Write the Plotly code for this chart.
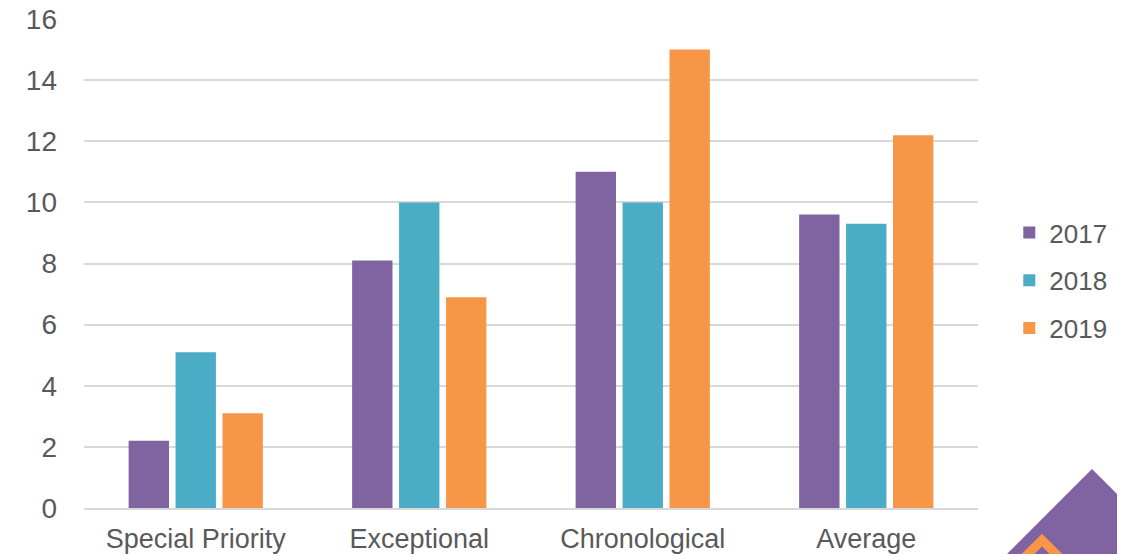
import plotly.graph_objects as go

categories = ["Special Priority", "Exceptional", "Chronological", "Average"]
years = ["2017", "2018", "2019"]
v2017 = [2.2, 8.1, 11.0, 9.6]
v2018 = [5.1, 10.0, 10.0, 9.3]
v2019 = [3.1, 6.9, 15.0, 12.2]
colors = ["#8064A2", "#4BACC6", "#F79646"]

OFF = 8  # default page body margin
W, H = 1125 - OFF, 554 - OFF
PL, PR, PT, PB = 84, 978, 19, 508  # plot area in screenshot pixels
L = PL - OFF
T = PT - OFF
R = W - (PR - PL) - L
B = H - (PB - PT) - T

fig = go.Figure()
for name, vals, c in zip(years, [v2017, v2018, v2019], colors):
    fig.add_trace(go.Bar(x=categories, y=vals, name=name, marker_color=c,
                         marker_line_width=0, legendgroup=name))

def px(x):
    return (x - PL) / (PR - PL)

def py(y):
    return (PB - y) / (PB - PT)

diamond = "M {},{} L {},{} L {},{} L {},{} Z".format(
    px(1092), py(469), px(1180), py(557), px(1092), py(645), px(1004), py(557))
chevron = "M {},{} L {},{} L {},{}".format(
    px(1012), py(570), px(1042), py(540), px(1072), py(570))

fig.update_layout(
    width=W, height=H,
    margin=dict(l=L, r=R, t=T, b=B),
    paper_bgcolor="white", plot_bgcolor="white",
    font=dict(family="Liberation Sans, Arial, sans-serif", color="#595959", size=26),
    barmode="group", bargap=0.37, bargroupgap=0.14,
    showlegend=True,
    legend=dict(x=1.035, y=0.465, xanchor="left", yanchor="middle",
                font=dict(size=26, color="#595959"), itemwidth=30,
                tracegroupgap=11, bgcolor="rgba(0,0,0,0)"),
    xaxis=dict(showgrid=False, showline=True, linecolor="#D9D9D9", linewidth=2,
               ticks="", tickfont=dict(size=27), ticklabelstandoff=6,
               automargin=False),
    yaxis=dict(range=[0, 16.001], tickvals=[0, 2, 4, 6, 8, 10, 12, 14, 16],
               showgrid=True, gridcolor="#D9D9D9",
               gridwidth=1.5, zeroline=False, showline=False, ticks="",
               tickfont=dict(size=28), ticklabelstandoff=26,
               ticklabeloverflow="allow", automargin=False),
    shapes=[
        dict(type="path", path=diamond, xref="paper", yref="paper",
             fillcolor="#8064A2", line=dict(width=0), layer="above"),
        dict(type="path", path=chevron, xref="paper", yref="paper",
             line=dict(color="#F79646", width=9), layer="above"),
    ],
)

fig.write_html("out.html")
